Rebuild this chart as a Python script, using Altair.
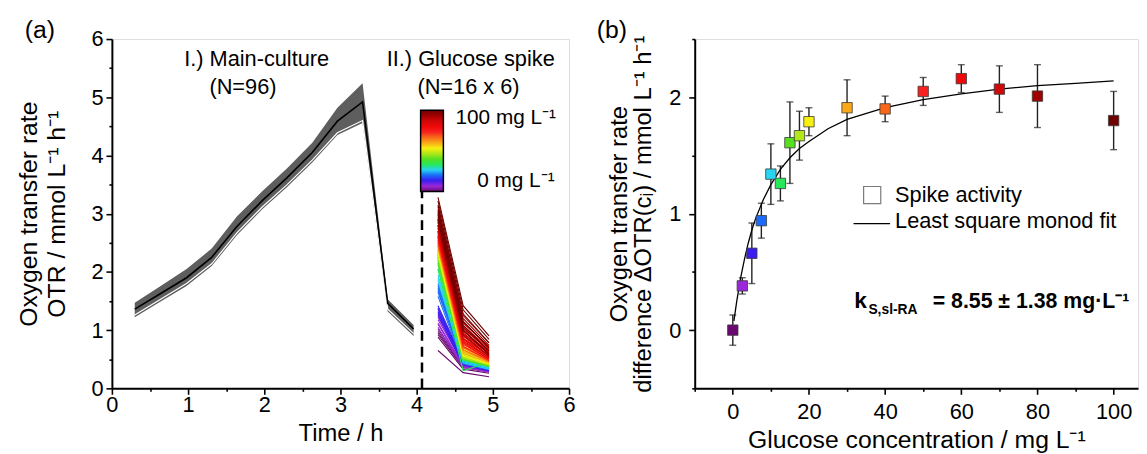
import altair as alt
import pandas as pd

FONT = "Liberation Sans"

# ---------------- Panel (a): main culture band ----------------
band_t = [0.30, 0.64, 0.98, 1.31, 1.64, 1.97, 2.30, 2.63, 2.96, 3.29, 3.62, 3.96]
band_top = [1.47, 1.76, 2.05, 2.40, 2.95, 3.38, 3.78, 4.22, 4.82, 5.24, 1.53, 1.09]
band_mid = [1.36, 1.63, 1.90, 2.25, 2.78, 3.22, 3.62, 4.05, 4.59, 4.92, 1.46, 1.02]
band_white = [1.26, 1.53, 1.80, 2.14, 2.67, 3.11, 3.50, 3.92, 4.39, 4.60, 1.36, 0.94]
band_low = [1.22, 1.49, 1.76, 2.10, 2.63, 3.07, 3.46, 3.88, 4.35, 4.56, 1.32, 0.90]

# ---------------- Panel (a): glucose spikes (16 conc. x 6 replicates) ----------------
spike_t = [4.28, 4.61, 4.95]
conc = [0, 2.5, 5, 7.5, 10, 12.5, 15, 17.5, 20, 30, 40, 50, 60, 70, 80, 100]
spike_v1 = [
    [0.65, 0.88, 0.92, 0.98, 1.02, 0.95],
    [1.05, 1.12, 1.18, 1.22, 1.10, 1.28],
    [1.25, 1.32, 1.38, 1.42, 1.30, 1.36],
    [1.58, 1.65, 1.72, 1.80, 1.68, 1.76],
    [1.85, 1.95, 2.05, 2.18, 1.90, 2.30],
    [2.05, 2.12, 2.20, 2.28, 2.15, 2.25],
    [2.15, 2.22, 2.30, 2.38, 2.26, 2.34],
    [2.25, 2.32, 2.40, 2.46, 2.36, 2.43],
    [2.32, 2.40, 2.46, 2.52, 2.38, 2.50],
    [2.40, 2.48, 2.55, 2.62, 2.45, 2.58],
    [2.45, 2.55, 2.62, 2.70, 2.50, 2.66],
    [2.52, 2.62, 2.70, 2.80, 2.58, 2.75],
    [2.60, 2.70, 2.80, 2.90, 2.65, 2.85],
    [2.70, 2.80, 2.90, 3.00, 2.75, 2.95],
    [2.80, 2.92, 3.02, 3.12, 2.86, 3.08],
    [2.90, 3.05, 3.15, 3.28, 2.98, 3.22],
]
spike_v2 = [
    [0.27, 0.33, 0.36, 0.40, 0.42, 0.38],
    [0.36, 0.40, 0.43, 0.45, 0.38, 0.47],
    [0.40, 0.44, 0.46, 0.48, 0.42, 0.45],
    [0.42, 0.46, 0.48, 0.50, 0.44, 0.47],
    [0.44, 0.48, 0.50, 0.52, 0.46, 0.55],
    [0.30, 0.50, 0.52, 0.55, 0.48, 0.53],
    [0.50, 0.54, 0.57, 0.60, 0.52, 0.58],
    [0.52, 0.56, 0.60, 0.63, 0.55, 0.61],
    [0.55, 0.60, 0.64, 0.68, 0.58, 0.66],
    [0.60, 0.66, 0.70, 0.75, 0.63, 0.72],
    [0.66, 0.72, 0.78, 0.84, 0.70, 0.80],
    [0.72, 0.80, 0.86, 0.94, 0.76, 0.90],
    [0.78, 0.86, 0.94, 1.02, 0.82, 0.98],
    [0.85, 0.95, 1.04, 1.12, 0.90, 1.08],
    [0.92, 1.05, 1.15, 1.25, 1.00, 1.20],
    [1.00, 1.15, 1.28, 1.42, 1.08, 1.35],
]
spike_v3 = [
    [0.20, 0.26, 0.28, 0.30, 0.33, 0.29],
    [0.28, 0.31, 0.33, 0.35, 0.30, 0.36],
    [0.30, 0.33, 0.35, 0.37, 0.32, 0.34],
    [0.32, 0.35, 0.36, 0.38, 0.34, 0.37],
    [0.33, 0.36, 0.38, 0.40, 0.35, 0.42],
    [0.45, 0.38, 0.40, 0.42, 0.37, 0.41],
    [0.38, 0.40, 0.42, 0.45, 0.39, 0.43],
    [0.40, 0.42, 0.44, 0.47, 0.41, 0.45],
    [0.42, 0.45, 0.47, 0.50, 0.43, 0.48],
    [0.44, 0.48, 0.50, 0.54, 0.46, 0.52],
    [0.46, 0.50, 0.54, 0.58, 0.48, 0.56],
    [0.48, 0.53, 0.57, 0.62, 0.50, 0.60],
    [0.50, 0.56, 0.60, 0.66, 0.53, 0.63],
    [0.52, 0.60, 0.65, 0.72, 0.56, 0.68],
    [0.55, 0.64, 0.70, 0.78, 0.60, 0.74],
    [0.58, 0.70, 0.78, 0.90, 0.64, 0.84],
]
conc_colors = ["#6a0a70", "#9a28d8", "#3a1ef0", "#1a6cf8", "#28d4f0", "#28e858",
               "#58e020", "#b0e818", "#f8f010", "#f8a818", "#f86818", "#f82020",
               "#f00808", "#d00808", "#a00000", "#700000"]

dash_x = [4.07]
dash_top = [3.4]

# colour-bar labels (panel a)
cbar_label_x = [4.51, 5.81]
cbar_label_y = [4.54, 3.45]
cbar_labels = ["100 mg L⁻¹", "0 mg L⁻¹"]

# ---------------- Panel (b): spike activity ----------------
dotr = [0.00, 0.38, 0.66, 0.94, 1.34, 1.26, 1.61, 1.67, 1.79, 1.91, 1.90, 2.05, 2.16, 2.07, 2.01, 1.80]
dotr_err = [0.13, 0.07, 0.26, 0.15, 0.26, 0.15, 0.35, 0.21, 0.12, 0.24, 0.11, 0.12, 0.12, 0.20, 0.27, 0.25]
fit_x = [0.3, 1, 2, 3, 4, 5, 6, 8, 10, 12.5, 15, 17.5, 20, 25, 30, 40, 50, 60, 70, 80, 90, 100]
fit_y = [0.08, 0.24, 0.44, 0.60, 0.74, 0.86, 0.96, 1.12, 1.25, 1.38, 1.48, 1.56, 1.62, 1.73,
         1.81, 1.91, 1.98, 2.03, 2.07, 2.10, 2.12, 2.14]

# ---------------- data frames ----------------
df_band = pd.DataFrame({"x": band_t, "y": band_top, "y2": band_low})
df_mid = pd.DataFrame({"x": band_t, "y": band_mid})
df_white = pd.DataFrame({"x": band_t, "y": band_white})

rows = []
for i in range(len(conc)):
    for r in range(6):
        for k, vals in enumerate([spike_v1, spike_v2, spike_v3]):
            rows.append({"id": f"{i}_{r}", "rank": i, "x": spike_t[k], "y": vals[i][r]})
df_spike = pd.DataFrame(rows)
df_dash = pd.DataFrame({"x": dash_x, "y": [0.0], "y2": dash_top})

ann_a = pd.DataFrame({
    "x": [1.9, 1.72, 4.71, 4.68],
    "y": [5.53, 5.05, 5.53, 5.05],
    "text": ["I.) Main-culture", "(N=96)", "II.) Glucose spike", "(N=16 x 6)"],
})
df_cbl = pd.DataFrame({"x": cbar_label_x, "y": cbar_label_y, "text": cbar_labels})

df_pts = pd.DataFrame({"x": conc, "y": dotr,
                       "lo": [v - e for v, e in zip(dotr, dotr_err)],
                       "hi": [v + e for v, e in zip(dotr, dotr_err)],
                       "rank": list(range(len(conc)))})
df_fit = pd.DataFrame({"x": fit_x, "y": fit_y})

# ---------------- panel (a) ----------------
axis_common = dict(grid=False, domainColor="black", domainWidth=2, tickColor="black",
                   tickWidth=1.6, labelColor="black", titleColor="black", labelFlush=False,
                   labelFont=FONT, titleFont=FONT, titleFontWeight="normal")

xa_axis = alt.Axis(values=[i * 0.5 for i in range(13)],
                   labelExpr="datum.value % 1 == 0 ? '' + datum.value : ''",
                   tickSize={"condition": {"test": "datum.value % 1 != 0", "value": 3}, "value": 6},
                   labelFontSize=22, labelPadding=0, title="Time / h", titleFontSize=24,
                   titlePadding=7, **axis_common)
ya_axis = alt.Axis(values=[i * 0.5 for i in range(13)],
                   labelExpr="datum.value % 1 == 0 ? '' + datum.value : ''",
                   tickSize={"condition": {"test": "datum.value % 1 != 0", "value": 3}, "value": 6},
                   labelFontSize=22, labelPadding=3,
                   title=["Oxygen transfer rate", "OTR / mmol L⁻¹ h⁻¹"], titleFontSize=25,
                   titleLineHeight=28, titlePadding=22, **axis_common)
xs_a = alt.Scale(domain=[0, 6], nice=False)
ys_a = alt.Scale(domain=[0, 6], nice=False)
XA = alt.X("x:Q", scale=xs_a, axis=xa_axis)
YA = alt.Y("y:Q", scale=ys_a, axis=ya_axis)

band = alt.Chart(df_band).mark_area(color="#5e5e5e").encode(x=XA, y=YA, y2="y2:Q")
white = alt.Chart(df_white).mark_line(color="white", strokeWidth=1.2).encode(x=XA, y=YA)
mid = alt.Chart(df_mid).mark_line(color="black", strokeWidth=1.6).encode(x=XA, y=YA)
spikes = alt.Chart(df_spike).mark_line(strokeWidth=1.1).encode(
    x=XA, y=YA, detail="id:N",
    color=alt.Color("rank:Q",
                    scale=alt.Scale(domain=[0, 15], range=conc_colors),
                    legend=alt.Legend(title=None, orient="none", legendX=312, legendY=72,
                                      direction="vertical", labelExpr="''", values=[0, 15],
                                      gradientLength=82, gradientThickness=23,
                                      gradientStrokeColor="black", gradientStrokeWidth=1.5,
                                      padding=0)))
dash = alt.Chart(df_dash).mark_rule(color="black", strokeWidth=2.5, strokeDash=[10, 6]).encode(
    x=XA, y=YA, y2="y2:Q")
texts_a = alt.Chart(ann_a).mark_text(fontSize=22, font=FONT, color="black", align="center",
                                     baseline="alphabetic").encode(x=XA, y=YA, text="text:N")
cbl_left = alt.Chart(df_cbl.iloc[[0]]).mark_text(fontSize=21, font=FONT, color="black",
                                                 align="left", baseline="alphabetic").encode(
    x=XA, y=YA, text="text:N")
cbl_right = alt.Chart(df_cbl.iloc[[1]]).mark_text(fontSize=21, font=FONT, color="black",
                                                  align="right", baseline="alphabetic").encode(
    x=XA, y=YA, text="text:N")
label_a = alt.Chart(pd.DataFrame({"t": ["(a)"]})).mark_text(
    fontSize=25, font=FONT, align="left", baseline="alphabetic", color="black").encode(
    x=alt.value(-88), y=alt.value(-1), text="t:N")

panel_a = alt.layer(band, white, mid, spikes, dash, texts_a, cbl_left, cbl_right,
                    label_a).properties(width=462, height=353)

# ---------------- panel (b) ----------------
xb_axis = alt.Axis(values=[-10 + 10 * i for i in range(12)],
                   labelExpr="datum.value % 20 == 0 ? '' + datum.value : ''",
                   tickSize={"condition": {"test": "datum.value % 20 != 0", "value": 3}, "value": 6},
                   labelFontSize=22, labelPadding=7, title="Glucose concentration / mg L⁻¹",
                   titleFontSize=25, titlePadding=6, **axis_common)
yb_axis = alt.Axis(values=[-0.5 + 0.5 * i for i in range(7)],
                   labelExpr="datum.value % 1 == 0 ? '' + datum.value : ''",
                   tickSize={"condition": {"test": "datum.value % 1 != 0", "value": 3}, "value": 6},
                   labelFontSize=22, labelPadding=8,
                   title=["Oxygen transfer rate", "difference ΔOTR(cᵢ) / mmol L⁻¹ h⁻¹"],
                   titleFontSize=24, titleLineHeight=25, titlePadding=13, **axis_common)
xs_b = alt.Scale(domain=[-10, 106.4], nice=False)
ys_b = alt.Scale(domain=[-0.5, 2.5], nice=False)
XB = alt.X("x:Q", scale=xs_b, axis=xb_axis)
YB = alt.Y("y:Q", scale=ys_b, axis=yb_axis)

errs = alt.Chart(df_pts).mark_errorbar(ticks={"size": 7, "thickness": 1.4, "color": "#222222"},
                                      thickness=1.4, color="#222222").encode(
    x=XB, y=alt.Y("lo:Q", scale=ys_b, axis=yb_axis), y2="hi:Q")
fit = alt.Chart(df_fit).mark_line(color="black", strokeWidth=1.3).encode(x=XB, y=YB)
pts = alt.Chart(df_pts).mark_square(size=110, opacity=1, stroke="#3a3a3a", strokeWidth=0.8).encode(
    x=XB, y=YB,
    color=alt.Color("rank:Q", scale=alt.Scale(domain=[0, 15], range=conc_colors), legend=None))

leg_sq = alt.Chart(pd.DataFrame({"x": [36.6], "y": [1.16]})).mark_square(
    size=300, filled=False, stroke="#444444", strokeWidth=1.2).encode(x=XB, y=YB)
leg_line = alt.Chart(pd.DataFrame({"x": [31.7], "x2": [41.3], "y": [0.915]})).mark_rule(
    color="black", strokeWidth=1.3).encode(x=XB, x2="x2:Q", y=YB)
leg_txt = alt.Chart(pd.DataFrame({"x": [42.6, 42.6], "y": [1.10, 0.873],
                                  "text": ["Spike activity", "Least square monod fit"]})).mark_text(
    fontSize=22, font=FONT, align="left", baseline="alphabetic", color="black").encode(
    x=XB, y=YB, text="text:N")
k_main = alt.Chart(pd.DataFrame({"x": [31.9], "y": [0.186], "text": ["k"]})).mark_text(
    fontSize=23, font=FONT, fontWeight="bold", align="left", baseline="alphabetic",
    color="black").encode(x=XB, y=YB, text="text:N")
k_sub = alt.Chart(pd.DataFrame({"x": [35.6], "y": [0.135], "text": ["S,sl-RA"]})).mark_text(
    fontSize=14, font=FONT, fontWeight="bold", align="left", baseline="alphabetic",
    color="black").encode(x=XB, y=YB, text="text:N")
k_val = alt.Chart(pd.DataFrame({"x": [52.5], "y": [0.186],
                                "text": ["= 8.55 ± 1.38 mg·L⁻¹"]})).mark_text(
    fontSize=21.5, font=FONT, fontWeight="bold", align="left", baseline="alphabetic",
    color="black").encode(x=XB, y=YB, text="text:N")
label_b = alt.Chart(pd.DataFrame({"t": ["(b)"]})).mark_text(
    fontSize=25, font=FONT, align="left", baseline="alphabetic", color="black").encode(
    x=alt.value(-99), y=alt.value(-1), text="t:N")

panel_b = alt.layer(errs, fit, pts, leg_sq, leg_line, leg_txt, k_main, k_sub, k_val,
                    label_b).properties(width=448, height=353)

chart = alt.hconcat(panel_a, panel_b, spacing=20).resolve_scale(color="independent").properties(
    padding={"left": 8, "top": 7, "right": 0, "bottom": 0}
).configure_view(stroke="black", strokeWidth=2).configure(font=FONT)

chart.save("out.html", embed_options={"renderer": "svg", "actions": False})
